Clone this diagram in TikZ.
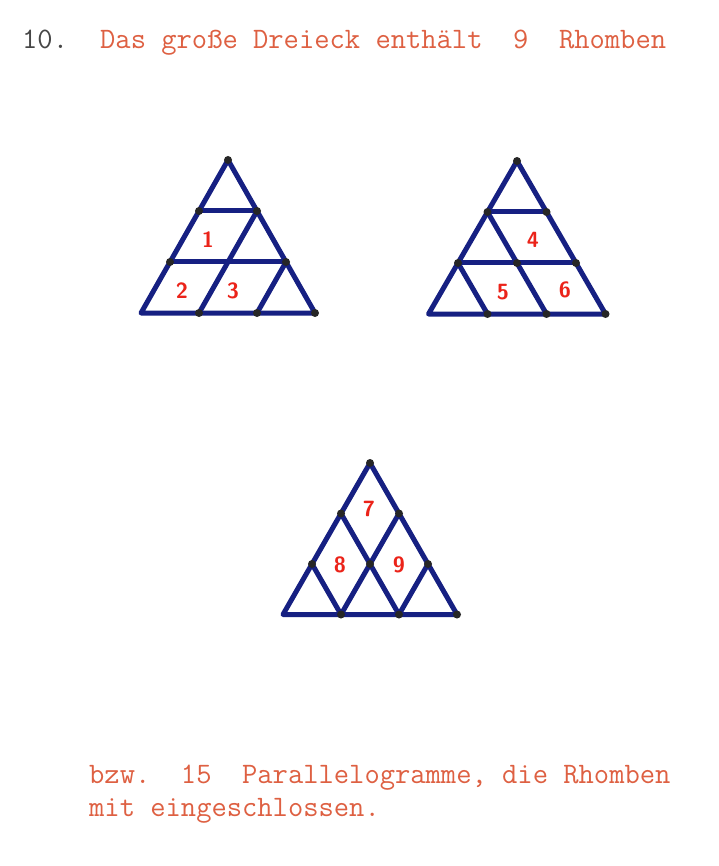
\documentclass[tikz,border=0pt]{standalone}
\usepackage{fontspec}
\definecolor{navy}{RGB}{22,32,130}
\definecolor{typered}{RGB}{222,96,66}
\definecolor{typegray}{RGB}{70,70,70}
\definecolor{penred}{RGB}{235,35,25}
\tikzset{
  edge/.style={draw=navy, line width=5pt, line join=round, line cap=round},
  vdot/.style={circle, fill=black!85, inner sep=0pt, minimum size=8pt},
  lbl/.style={text=penred, font=\fontsize{22}{24}\sffamily\bfseries, inner sep=0pt},
  txt/.style={font=\fontsize{29.7}{34}\ttfamily, inner sep=0pt, anchor=base west},
}
\begin{document}
\begin{tikzpicture}[x=1pt,y=-1pt]
\useasboundingbox[fill=white] (0,0) rectangle (718,866);
% lattice coordinates
\foreach \i in {0,...,3}{
  \foreach \j in {0,...,\i}{
    \coordinate (A-\i-\j) at ({228+(\j-\i/2)*58},{160+\i*51});
    \coordinate (B-\i-\j) at ({517+(\j-\i/2)*59},{161+\i*51});
    \coordinate (C-\i-\j) at ({370+(\j-\i/2)*58},{463+\i*50.5});
  }
}
% texts
\node[txt, text=typegray] (t10) at (22,49) {10.};
\node[txt, text=typered] (title) at (100,49) {Das große Dreieck enthält\ \ 9\ \ Rhomben};
\node[txt, text=typered] (b1) at (89,783) {bzw.\ \ 15\ \ Parallelogramme, die Rhomben};
\node[txt, text=typered] (b2) at (89,816) {mit eingeschlossen.};
% triangle 1
\draw[edge] (A-0-0) -- (A-3-0) -- (A-3-3) -- cycle;
\draw[edge] (A-1-0) -- (A-1-1);
\draw[edge] (A-2-0) -- (A-2-2);
\draw[edge] (A-1-1) -- (A-3-1);
\draw[edge] (A-2-2) -- (A-3-2);
\foreach \p in {0-0,1-0,1-1,2-0,2-2,3-1,3-2,3-3}{\node[vdot] at (A-\p) {};}
\node[lbl] (n1) at (208,240) {1};
\node[lbl] (n2) at (182,291) {2};
\node[lbl] (n3) at (233,291) {3};
% triangle 2
\draw[edge] (B-0-0) -- (B-3-0) -- (B-3-3) -- cycle;
\draw[edge] (B-1-0) -- (B-1-1);
\draw[edge] (B-2-0) -- (B-2-2);
\draw[edge] (B-1-0) -- (B-3-2);
\draw[edge] (B-2-0) -- (B-3-1);
\foreach \p in {0-0,1-0,1-1,2-0,2-1,2-2,3-1,3-2,3-3}{\node[vdot] at (B-\p) {};}
\node[lbl] (n4) at (533,240) {4};
\node[lbl] (n5) at (503,292) {5};
\node[lbl] (n6) at (565,290) {6};
% triangle 3
\draw[edge] (C-0-0) -- (C-3-0) -- (C-3-3) -- cycle;
\draw[edge] (C-1-0) -- (C-3-2);
\draw[edge] (C-1-1) -- (C-3-1);
\draw[edge] (C-2-0) -- (C-3-1);
\draw[edge] (C-2-2) -- (C-3-2);
\foreach \p in {0-0,1-0,1-1,2-0,2-1,2-2,3-1,3-2,3-3}{\node[vdot] at (C-\p) {};}
\node[lbl] (n7) at (369,509) {7};
\node[lbl] (n8) at (340,565) {8};
\node[lbl] (n9) at (399,565) {9};
\end{tikzpicture}
\end{document}
